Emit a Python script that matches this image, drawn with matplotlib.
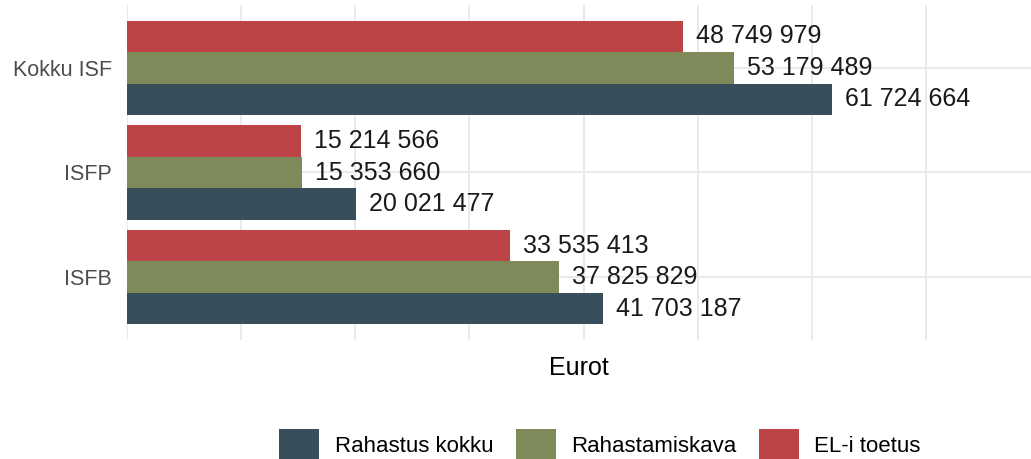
import matplotlib
matplotlib.use("Agg")
import matplotlib.pyplot as plt
from matplotlib.patches import Patch
import numpy as np

categories = ["ISFB", "ISFP", "Kokku ISF"]
series = ["Rahastus kokku", "Rahastamiskava", "EL-i toetus"]
rahastus_kokku = [41703187, 20021477, 61724664]
rahastamiskava = [37825829, 15353660, 53179489]
eli_toetus = [33535413, 15214566, 48749979]
colors = ["#394e5b", "#7e8a5a", "#bd4446"]

plt.rcParams["font.family"] = ["Liberation Sans", "DejaVu Sans"]

fig = plt.figure(figsize=(10.31, 4.59), dpi=100)
ax = fig.add_axes([127 / 1031, 1 - 340 / 459, 1 - 127 / 1031, 335 / 459])

y = np.arange(len(categories)) + 1
h = 0.3
for i, (vals, col) in enumerate(zip([rahastus_kokku, rahastamiskava, eli_toetus], colors)):
    yy = y + (i - 1) * h
    ax.barh(yy, vals, height=h, color=col, zorder=2)
    for v, yv in zip(vals, yy):
        lab = f"{v:,}".replace(",", " ")
        ax.annotate(lab, (v, yv), xytext=(13, 0), textcoords="offset pixels",
                    va="center", ha="left", fontsize=18, color="#1a1a1a", zorder=3)

ax.set_xlim(0, 79.2e6)
ax.set_ylim(0.4, 3.6)
ax.set_xticks([0, 20e6, 40e6, 60e6])
ax.set_xticks([10e6, 30e6, 50e6, 70e6], minor=True)
ax.set_xticklabels([])
ax.set_yticks(y)
ax.set_yticklabels(categories, fontsize=15.5, color="#4d4d4d")
ax.tick_params(axis="both", which="both", length=0)
ax.tick_params(axis="y", pad=11)
ax.grid(True, which="both", axis="x", color="#e8e8e8", lw=1.3, zorder=0)
ax.grid(True, which="major", axis="y", color="#e8e8e8", lw=1.3, zorder=0)
for s in ax.spines.values():
    s.set_visible(False)
ax.set_xlabel("Eurot", fontsize=18, labelpad=8)

handles = [Patch(facecolor=c, label=s) for s, c in zip(series, colors)]
fig.legend(handles=handles, loc="center", bbox_to_anchor=(0.582, 1 - 445 / 459), ncol=3,
           frameon=False, fontsize=16, handlelength=1.8, handleheight=1.8,
           handletextpad=0.7, columnspacing=1.0)

fig.savefig("out.png", dpi=100)
